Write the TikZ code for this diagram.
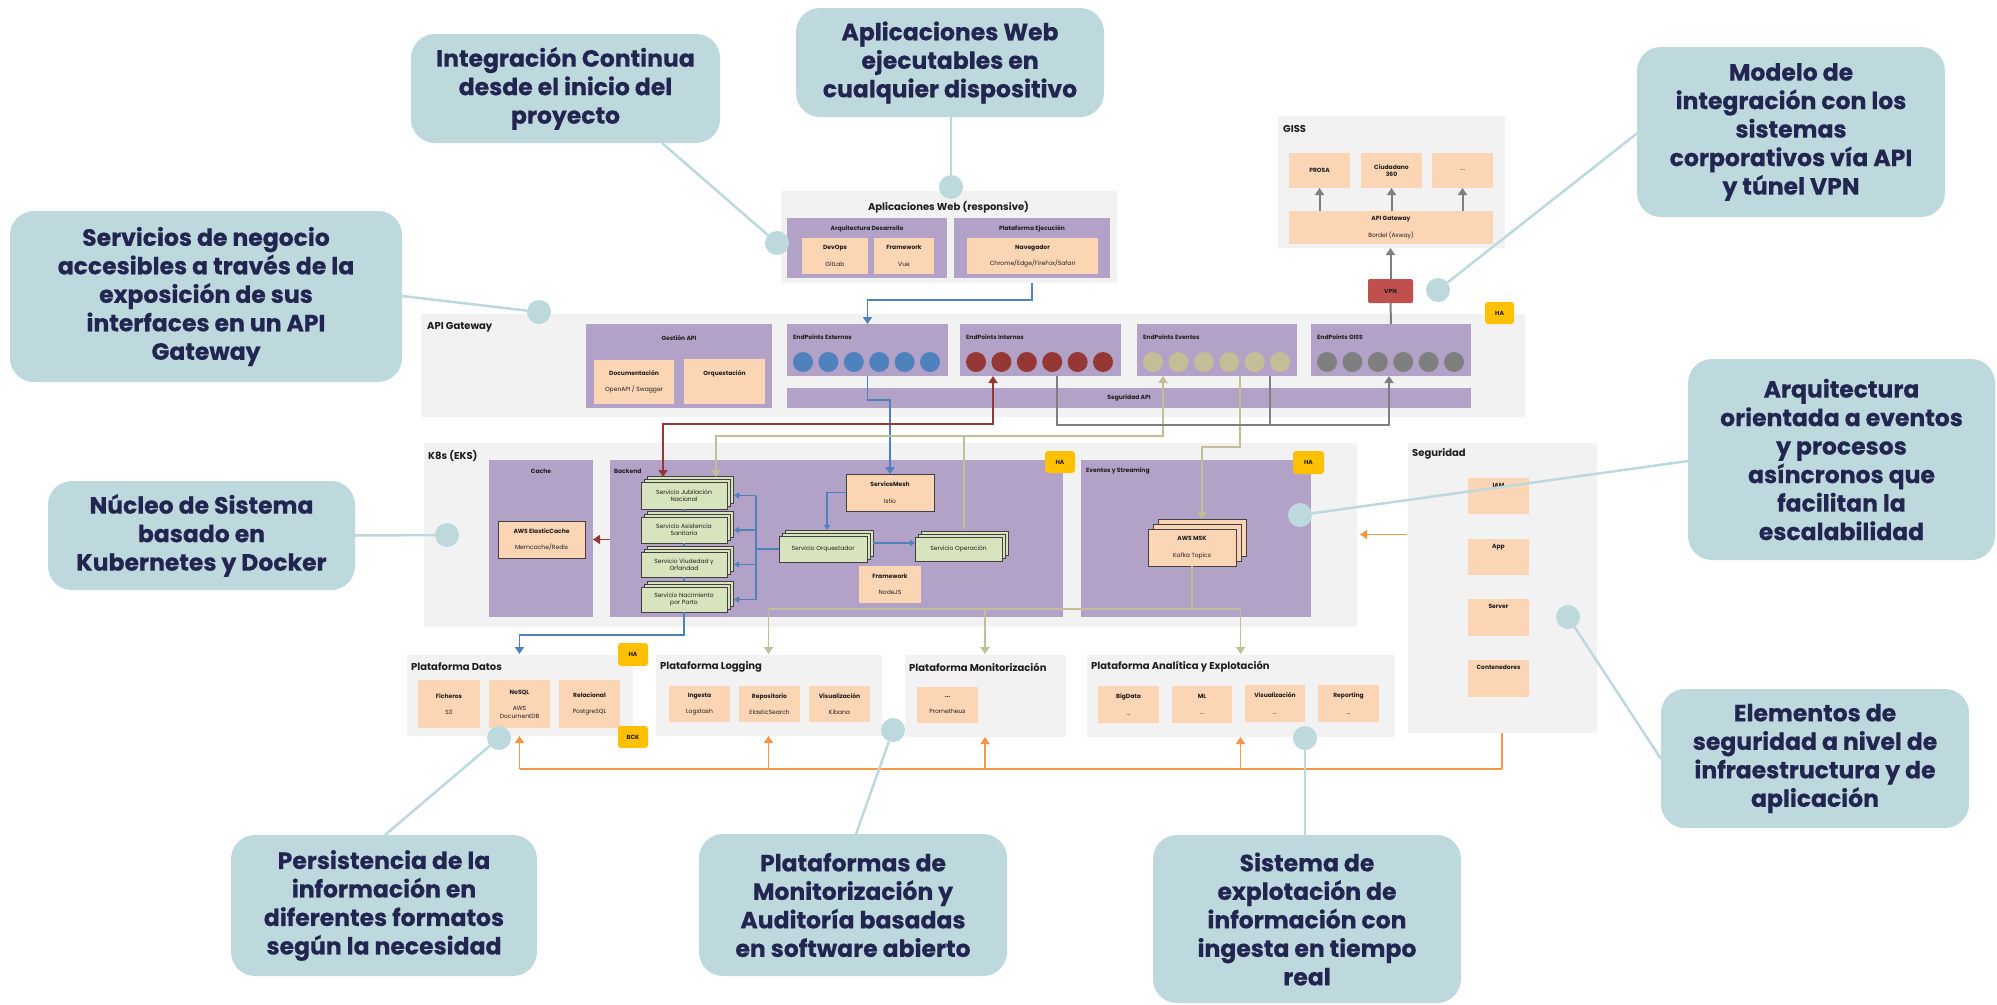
\documentclass[tikz,border=0pt]{standalone}
\usepackage{fontspec}
\setmainfont{Poppins}
\newfontfamily\calfam[FakeBold=0.5]{Poppins}
\usetikzlibrary{arrows.meta,calc}
\definecolor{calfill}{RGB}{189,217,222}
\definecolor{calnavy}{RGB}{34,37,80}
\definecolor{grpfill}{RGB}{242,242,242}
\definecolor{purp}{RGB}{178,162,199}
\definecolor{orng}{RGB}{252,213,181}
\definecolor{grn}{RGB}{215,228,189}
\definecolor{hay}{RGB}{255,192,0}
\definecolor{vpnred}{RGB}{192,80,77}
\definecolor{bl}{RGB}{79,129,189}
\definecolor{dred}{RGB}{149,55,53}
\definecolor{beige}{RGB}{196,189,151}
\definecolor{gr}{RGB}{127,127,127}
\definecolor{org}{RGB}{247,150,70}
\definecolor{txt}{RGB}{30,30,30}
\newcommand\smf{\fontsize{6}{7.4}\selectfont}
\newcommand\smfb{\fontsize{6}{7.4}\selectfont\bfseries}
\newcommand\grtitle{\fontsize{10}{12}\selectfont\bfseries}
\newcommand\calf{\calfam\fontsize{23.5}{28.5}\selectfont\bfseries}
\newcommand\hdval[2]{\textbf{#1}\\[9pt]#2}
\newcommand\mkbox[7][]{%
  \node[inner sep=0pt,outer sep=0pt,minimum width={(#5-#3)*1pt},minimum height={(#6-#4)*1pt},#1] (#2) at ({(#3+#5)/2},{(#4+#6)/2}) {#7};}
\newcommand\mkstack[8][]{%
  \path[#1] ({#3+2*#8},{#4-2*#8}) rectangle ({#5+2*#8},{#6-2*#8});
  \path[#1] ({#3+#8},{#4-#8}) rectangle ({#5+#8},{#6-#8});
  \mkbox[#1]{#2}{#3}{#4}{#5}{#6}{#7}}
\begin{document}
\begin{tikzpicture}[x=1pt,y=-1pt,
  ktip/.tip={Triangle[width=9pt,length=7pt]},
  sktip/.tip={Triangle[width=6pt,length=5pt]},
  grp/.style={fill=grpfill,draw=white,line width=1pt},
  pbox/.style={fill=purp},
  obox/.style={fill=orng,align=center,font=\smf,text=txt},
  obd/.style={obox,draw=black!75,line width=1pt},
  gbox/.style={fill=grn,draw=black!75,line width=1pt,align=center,font=\smf,text=txt},
  hab/.style={fill=hay,rounded corners=3pt,font=\smfb,text=txt},
  vpnb/.style={fill=vpnred,rounded corners=2pt,font=\smfb,text=txt},
  gt/.style={anchor=west,font=\grtitle,text=txt,inner sep=0pt},
  st/.style={anchor=west,font=\smfb,text=txt,inner sep=0pt},
  epc/.style={circle,minimum size=20pt,inner sep=0pt},
  calbox/.style={fill=calfill,rounded corners=24pt,align=center,font=\calf,text=calnavy},
  calln/.style={draw=calfill,line width=2.5pt},
  caldot/.style={fill=calfill,circle,minimum size=24pt,inner sep=0pt},
  blueln/.style={draw=bl,line width=1.6pt},
  redln/.style={draw=dred,line width=1.8pt},
  beigeln/.style={draw=beige,line width=1.8pt},
  grayln/.style={draw=gr,line width=2pt},
  orgln/.style={draw=org,line width=1.8pt}]
\useasboundingbox (0,0) rectangle (1997,1004);
\fill[white] (0,0) rectangle (1997,1004);

% ---------- group boxes
\mkbox[grp]{webapp}{780}{190}{1117}{283}{}
\mkbox[grp]{giss}{1277}{115}{1505}{248}{}
\mkbox[grp]{apigw}{420}{313}{1525}{417}{}
\mkbox[grp]{k8s}{423}{442}{1357}{627}{}
\mkbox[grp]{seg}{1407}{442}{1597}{733}{}
\mkbox[grp]{pdatos}{406}{654}{633}{736}{}
\mkbox[grp]{plog}{655}{654}{882}{736}{}
\mkbox[grp]{pmon}{904}{654}{1066}{737}{}
\mkbox[grp]{pana}{1086}{654}{1395}{737}{}
\node[gt,anchor=center] (twebapp) at (948.5,207) {Aplicaciones Web (responsive)};
\node[gt] (tgiss) at (1283,129) {GISS};
\node[gt] (tapigw) at (427,327) {API Gateway};
\node[gt] (tk8s) at (428,456) {K8s (EKS)};
\node[gt] (tseg) at (1412,454) {Seguridad};
\node[gt] (tpdatos) at (411,667) {Plataforma Datos};
\node[gt] (tplog) at (660,667) {Plataforma Logging};
\node[gt] (tpmon) at (909,667) {Plataforma Monitorización};
\node[gt] (tpana) at (1091,667) {Plataforma Analítica y Explotación};

% ---------- purple boxes
\mkbox[pbox]{arqdes}{787}{218}{947}{278}{}
\mkbox[pbox]{plateje}{954}{218}{1110}{278}{}
\mkbox[pbox]{gestapi}{586}{324}{772}{408}{}
\mkbox[pbox]{epext}{787}{324}{948}{376}{}
\mkbox[pbox]{epint}{960}{324}{1121}{376}{}
\mkbox[pbox]{epev}{1137}{324}{1297}{376}{}
\mkbox[pbox]{epgiss}{1311}{324}{1471}{376}{}
\mkbox[pbox,font=\smfb,text=txt]{segapi}{787}{388}{1471}{408}{Seguridad API}
\mkbox[pbox]{cache}{489}{460}{593}{617}{}
\mkbox[pbox]{backend}{610}{460}{1063}{617}{}
\mkbox[pbox]{eventos}{1081}{460}{1311}{617}{}
\node[st,anchor=center] (tarq) at (867,229) {Arquitectura Desarrollo};
\node[st,anchor=center] (tplat) at (1032,229) {Plataforma Ejecución};
\node[st,anchor=center] (tgest) at (679,338) {Gestión API};
\node[st] (tepext) at (793,337) {EndPoints Externos};
\node[st] (tepint) at (966,337) {EndPoints Internos};
\node[st] (tepev) at (1143,337) {EndPoints Eventos};
\node[st] (tepgiss) at (1317,337) {EndPoints GISS};
\node[st,anchor=center] (tcache) at (541,471) {Cache};
\node[st] (tback) at (614,471) {Backend};
\node[st] (tevent) at (1086,471) {Eventos y Streaming};

\foreach \i in {0,...,5}{
  \node[epc,fill=bl] (cext\i) at ({803+25.4*\i},362) {};
  \node[epc,fill=dred] (cint\i) at ({976+25.4*\i},362) {};
  \node[epc,fill=beige] (cev\i) at ({1153+25.4*\i},362) {};
  \node[epc,fill=gr] (cgiss\i) at ({1327+25.4*\i},362) {};
}

% ---------- orange boxes
\mkbox[obox]{devops}{802}{238}{868}{274}{\hdval{DevOps}{GitLab}}
\mkbox[obox]{fwvue}{874}{238}{934}{274}{\hdval{Framework}{Vue}}
\mkbox[obox]{naveg}{967}{238}{1098}{274}{\hdval{Navegador}{Chrome/Edge/FireFox/Safari}}
\mkbox[obox]{prosa}{1289}{153}{1350}{188}{\textbf{PROSA}}
\mkbox[obox]{ciud}{1361}{153}{1422}{188}{\textbf{Ciudadano}\\\textbf{360}}
\mkbox[obox]{gdots}{1432}{153}{1493}{188}{....}
\mkbox[obox]{apigiss}{1289}{211}{1493}{244}{\hdval{API Gateway}{Bordel (Axway)}}
\mkbox[obox]{docu}{594}{360}{674}{404}{\hdval{Documentación}{OpenAPI / Swagger}}
\mkbox[obox]{orqst}{684}{359}{765}{404}{\hdval{Orquestación}{\mbox{}}}
\mkbox[obd]{elasticache}{498}{521}{585}{558}{\hdval{AWS ElasticCache}{Memcache/Redis}}
\mkbox[obd]{servicemesh}{846}{474}{934}{511}{\hdval{ServiceMesh}{Istio}}
\mkbox[obox]{fwnode}{859}{566}{921}{603}{\hdval{Framework}{NodeJS}}
\mkstack[obd]{msk}{1148}{529}{1236}{566}{\hdval{AWS MSK}{Kafka Topics}}{5}
\mkbox[obox]{iam}{1468}{478}{1529}{514}{}
\mkbox[obox]{app}{1468}{539}{1529}{575}{}
\mkbox[obox]{server}{1468}{599}{1529}{636}{}
\mkbox[obox]{cont}{1468}{660}{1529}{697}{}
\node[st,anchor=north] (tiam) at ($(iam.north)+(0,5)$) {IAM};
\node[st,anchor=north] (tapp) at ($(app.north)+(0,5)$) {App};
\node[st,anchor=north] (tserver) at ($(server.north)+(0,5)$) {Server};
\node[st,anchor=north] (tcont) at ($(cont.north)+(0,5)$) {Contenedores};
\mkbox[obox]{ficheros}{418}{680}{480}{728}{\hdval{Ficheros}{S3}}
\mkbox[obox]{nosql}{489}{680}{550}{728}{\textbf{NoSQL}\\[9pt]AWS\\DocumentDB}
\mkbox[obox]{relac}{559}{680}{620}{728}{\hdval{Relacional}{PostgreSQL}}
\mkbox[obox]{ingesta}{669}{686}{730}{722}{\hdval{Ingesta}{Logstash}}
\mkbox[obox]{repo}{739}{686}{800}{722}{\hdval{Repositorio}{ElasticSearch}}
\mkbox[obox]{visl}{809}{686}{870}{722}{\hdval{Visualización}{Kibana}}
\mkbox[obox]{prom}{917}{687}{978}{723}{\hdval{...}{Prometheus}}
\mkbox[obox]{bigdata}{1098}{686}{1159}{723}{\hdval{BigData}{...}}
\mkbox[obox]{ml}{1172}{686}{1232}{723}{\hdval{ML}{...}}
\mkbox[obox]{visa}{1245}{685}{1305}{722}{\hdval{Visualización}{...}}
\mkbox[obox]{report}{1318}{685}{1379}{722}{\hdval{Reporting}{...}}

% ---------- service stacks
\mkstack[gbox]{jub}{641}{482}{727}{509}{Servicio Jubilación\\Nacional}{3}
\mkstack[gbox]{asis}{641}{517}{727}{543}{Servicio Asistencia\\Sanitaria}{3}
\mkstack[gbox]{viud}{641}{552}{727}{577}{Servicio Viudedad y\\Orfandad}{3}
\mkstack[gbox]{naci}{641}{587}{727}{612}{Servicio Nacimiento\\por Parto}{3}
\mkstack[gbox]{orq}{779}{536}{867}{562}{Servicio Orquestador}{3}
\mkstack[gbox]{oper}{915}{537}{1002}{561}{Servicio Operación}{3}

% ---------- badges
\mkbox[hab]{ha1}{1485}{302}{1514}{324}{HA}
\mkbox[hab]{ha2}{1045}{451}{1075}{473}{HA}
\mkbox[hab]{ha3}{1293}{451}{1324}{474}{HA}
\mkbox[hab]{ha4}{618}{643}{648}{666}{HA}
\mkbox[hab]{bck}{618}{726}{648}{748}{BCK}
\mkbox[vpnb]{vpn}{1368}{279}{1413}{303}{VPN}

% ---------- blue connectors
\draw[blueln,-ktip] (plateje.south |- webapp.south) -- ++(0,17) -| (epext.north);
\draw[blueln,-ktip] (epext.south) -- ++(0,24) -| (servicemesh.north);
\draw[blueln,-sktip] (servicemesh.west) -| ($(orq.north)+(4,-6)$);
\draw[blueln,-sktip] ($(orq.east)+(6,-6)$) -- ($(oper.west)+(0,-6)$);
\coordinate (sbus) at ($(orq.west)+(-23,0)$);
\draw[blueln] (orq.west) -- (sbus);
\draw[blueln] (sbus |- jub.east) -- (sbus |- naci.east);
\foreach \s in {jub,asis,viud,naci} \draw[blueln,-sktip] (sbus |- \s.east) -- ($(\s.east)+(7,0)$);
\draw[blueln] (jub.south) -- ($(asis.north)+(0,-6)$);
\draw[blueln] (asis.south) -- ($(viud.north)+(0,-6)$);
\draw[blueln] (viud.south) -- ($(naci.north)+(0,-6)$);
\draw[blueln,-ktip] (naci.south) -- ++(0,23) -| (pdatos.north);

% ---------- red connectors
\coordinate (jubL) at ($(jub.north west)+(22,-5)$);
\coordinate (jubR) at ($(jub.north west)+(75,-5)$);
\draw[redln,ktip-ktip] (jubL) -- ++(0,-53) -| ($(epint.south)+(-47.5,0)$);
\draw[redln,-ktip] (backend.west |- elasticache.east) -- (cache.east |- elasticache.east);

% ---------- beige connectors
\draw[beigeln,ktip-ktip] (jubR) -- ++(0,-41) -| ($(epev.south)+(-54,0)$);
\draw[beigeln] ($(oper.north)+(5.5,-8)$) -- ($(oper.north)+(5.5,-101)$);
\draw[beigeln,-ktip] ($(epev.south)+(23,0)$) -- ++(0,71) -| ($(msk.north)+(10,-10)$);
\draw[beigeln] (msk.south) -- ++(0,43) coordinate (mskb);
\draw[beigeln] (plog.north |- mskb) -- (pana.north |- mskb);
\foreach \p in {plog,pmon,pana} \draw[beigeln,-ktip] (\p.north |- mskb) -- (\p.north);

% ---------- gray connectors
\draw[grayln,-ktip] ($(epint.south)+(16.5,0)$) -- ++(0,49) -| ($(epgiss.south)+(-2,0)$);
\draw[grayln] ($(epev.south)+(53,0)$) -- ++(0,49);
\draw[grayln] (epgiss.north) -- (vpn.south);
\draw[grayln,-ktip] (vpn.north) -- (vpn.north |- giss.south);
\foreach \b in {prosa,ciud,gdots} \draw[grayln,-ktip] (apigiss.north -| \b.south) -- (\b.south);

% ---------- orange connectors
\draw[orgln,-ktip] (seg.west |- k8s.east) -- ($(k8s.east)+(3,0)$);
\draw[orgln] (seg.south) -- ++(0,36) coordinate (obus);
\draw[orgln] (obus) -- (pdatos.south |- obus);
\foreach \p in {pdatos,plog,pmon,pana} \draw[orgln,-ktip] (\p.south |- obus) -- (\p.south);

% ---------- callouts
\mkbox[calbox]{c1}{411}{34}{720}{143}{Integración Continua\\desde el inicio del\\proyecto}
\mkbox[calbox]{c2}{796}{8}{1104}{117}{Aplicaciones Web\\ejecutables en\\cualquier dispositivo}
\mkbox[calbox]{c3}{1637}{47}{1945}{217}{Modelo de\\integración con los\\sistemas\\corporativos vía API\\y túnel VPN}
\mkbox[calbox]{c4}{10}{211}{402}{382}{Servicios de negocio\\accesibles a través de la\\exposición de sus\\interfaces en un API\\Gateway}
\mkbox[calbox]{c5}{48}{481}{355}{590}{Núcleo de Sistema\\basado en\\Kubernetes y Docker}
\mkbox[calbox]{c6}{1688}{359}{1995}{560}{Arquitectura\\orientada a eventos\\y procesos\\asíncronos que\\facilitan la\\escalabilidad}
\mkbox[calbox]{c7}{1661}{689}{1969}{828}{Elementos de\\seguridad a nivel de\\infraestructura y de\\aplicación}
\mkbox[calbox]{c8}{231}{835}{537}{976}{Persistencia de la\\información en\\diferentes formatos\\según la necesidad}
\mkbox[calbox]{c9}{699}{834}{1007}{976}{Plataformas de\\Monitorización y\\Auditoría basadas\\en software abierto}
\mkbox[calbox]{c10}{1153}{835}{1461}{1003}{Sistema de\\explotación de\\información con\\ingesta en tiempo\\real}

\node[caldot] (d1) at (777,243) {};
\node[caldot] (d2) at (951,187) {};
\node[caldot] (d3) at (1438,290) {};
\node[caldot] (d4) at (539,312) {};
\node[caldot] (d5) at (447,535) {};
\node[caldot] (d6) at (1300,515) {};
\node[caldot] (d7) at (1568,617) {};
\node[caldot] (d8) at (499,738) {};
\node[caldot] (d9) at (893,730) {};
\node[caldot] (d10) at (1305,738) {};

\draw[calln] ($(c1.south west)+(251,0)$) -- (d1);
\draw[calln] (d2 |- c2.south) -- (d2);
\draw[calln] ($(c3.north west)+(3,84)$) -- (d3);
\draw[calln] ($(c4.north east)+(0,85)$) -- (d4);
\draw[calln] (c5.east) -- (d5);
\draw[calln] ($(c6.north west)+(0,102)$) -- (d6);
\draw[calln] ($(c7.north west)+(0,70)$) -- (d7);
\draw[calln] ($(c8.north west)+(154,0)$) -- (d8);
\draw[calln] ($(c9.north west)+(157,0)$) -- (d9);
\draw[calln] (d10 |- c10.north) -- (d10);
\end{tikzpicture}
\end{document}
